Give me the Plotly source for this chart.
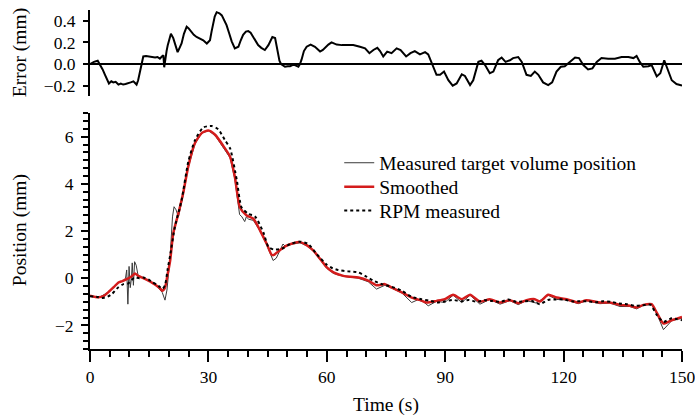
import plotly.graph_objects as go

# ---------------- data ----------------
err_t = [0, 1.0, 1.95, 2.5, 3.2, 3.8, 4.8, 5.4, 5.9, 6.5, 7.2, 7.8, 8.4, 9.0, 9.7, 10.3, 11.0, 11.8,
         12.2, 12.7, 13.1, 13.5, 14.2, 14.8, 15.6, 16.5, 17.1, 17.7, 18.2, 18.6, 18.8, 19.0, 19.4,
         19.7, 20.5, 21.1, 21.6, 22.2, 22.7, 23.2, 23.8, 24.5, 25.0, 25.6, 26.3, 27.0, 27.8, 28.7,
         29.6, 30.4, 30.8, 31.2, 31.6, 32.1, 32.8, 33.4, 34.0, 34.6, 35.3, 35.9, 36.7, 37.6, 38.2,
         38.8, 39.5, 40.1, 40.7, 41.4, 42.0, 42.6, 43.4, 44.3, 45.2, 45.7, 46.2, 46.9, 47.3, 47.6,
         48.0, 48.4, 49.4, 50.1, 50.7, 51.3, 51.9, 52.8, 53.2, 53.6, 54.2, 54.9, 55.9, 57.0, 57.7,
         58.3, 59.0, 59.5, 60.4, 61.2, 62.0, 62.5, 63.8, 65.0, 66.7, 68.4, 69.7, 70.8, 71.8, 72.8,
         73.5, 74.3, 75.3, 76.4, 77.7, 78.7, 80.1, 81.2, 82.3, 83.6, 84.9, 85.7, 86.3, 87.0, 87.8,
         88.7, 89.7, 90.8, 91.9, 92.9, 94.2, 95.0, 96.3, 97.1, 97.8, 98.4, 99.2, 100.1, 101.3,
         102.2, 103.4, 104.3, 105.3, 106.4, 107.2, 108.5, 109.4, 110.6, 111.7, 112.7, 113.6,
         114.8, 116.1, 117.1, 118.2, 119.3, 120.3, 121.6, 122.9, 123.9, 125.0, 126.2, 127.3,
         128.4, 129.6, 131.3, 133.0, 134.7, 136.4, 137.7, 138.5, 139.3, 140.2, 141.5, 142.3,
         143.6, 144.5, 145.5, 146.5, 147.4, 148.6, 150.0]
err_v = [0.0, 0.02, 0.03, 0.0, -0.05, -0.10, -0.18, -0.16, -0.17, -0.165, -0.19, -0.18, -0.19,
         -0.185, -0.18, -0.17, -0.16, -0.19, -0.15, -0.055, 0.03, 0.07, 0.075, 0.07, 0.065, 0.06,
         0.065, 0.05, 0.07, 0.08, -0.03, 0.03, 0.12, 0.175, 0.28, 0.24, 0.17, 0.11, 0.15, 0.19,
         0.28, 0.345, 0.33, 0.30, 0.27, 0.25, 0.235, 0.22, 0.19, 0.22, 0.30, 0.375, 0.44, 0.48,
         0.47, 0.45, 0.41, 0.36, 0.28, 0.21, 0.145, 0.16, 0.22, 0.27, 0.30, 0.305, 0.29, 0.25,
         0.21, 0.175, 0.15, 0.13, 0.175, 0.22, 0.25, 0.24, 0.16, 0.08, 0.03, 0.0, -0.025, -0.02,
         -0.02, -0.01, -0.01, -0.025, 0.0, 0.04, 0.12, 0.16, 0.18, 0.16, 0.135, 0.115, 0.13, 0.15,
         0.18, 0.20, 0.185, 0.18, 0.175, 0.175, 0.175, 0.16, 0.145, 0.10, 0.13, 0.15, 0.12, 0.07,
         0.115, 0.10, 0.145, 0.13, 0.07, 0.10, 0.12, 0.09, 0.11, 0.09, 0.03, -0.04, -0.10, -0.10,
         -0.07, -0.15, -0.20, -0.18, -0.095, -0.11, -0.195, -0.15, -0.05, 0.02, 0.03, -0.01,
         -0.085, -0.07, 0.035, 0.06, 0.02, 0.035, 0.055, 0.065, 0.02, -0.10, -0.11, -0.07, -0.10,
         -0.17, -0.195, -0.17, -0.07, -0.025, -0.02, 0.02, 0.06, 0.055, -0.01, -0.05, -0.04, 0.02,
         0.055, 0.05, 0.05, 0.065, 0.065, 0.055, 0.075, 0.02, -0.025, -0.02, -0.01, -0.115,
         -0.085, 0.035, -0.06, -0.15, -0.185, -0.20]

meas_t = [0, 2.1, 4.6, 7.2, 8.5, 9.0, 9.3, 9.6, 9.9, 10.2, 10.5, 10.7, 11.0, 11.3, 11.7, 12.2,
          13.5, 14.8, 16.9, 18.3, 19.0, 19.5, 20.3, 20.9, 21.3, 21.8, 22.4, 22.9, 23.6, 24.9,
          26.6, 28.3, 30.0, 31.7, 33.8, 35.5, 36.7, 37.9, 38.5, 39.2, 39.6, 40.2, 41.4, 43.1,
          44.8, 46.4, 47.2, 48.2, 48.9, 49.5, 51.5, 53.2, 54.9, 56.6, 58.3, 60.0, 61.7, 64.2,
          68.0, 70.5, 72.6, 74.7, 76.4, 79.0, 81.5, 83.0, 84.5, 85.7, 87.8, 89.9, 92.0, 94.2,
          96.3, 98.8, 101.3, 103.9, 106.4, 108.5, 110.6, 113.0, 116.1, 118.2, 120.8, 123.7,
          125.8, 129.2, 131.7, 134.3, 136.8, 138.5, 140.2, 142.3, 143.6, 145.3, 147.4, 148.5,
          150.0]
meas_v = [-0.76, -0.83, -0.6, -0.2, -0.1, 0.0, 0.35, -1.1, 0.5, -0.4, 0.0, 0.65, -0.3, 0.7,
          0.55, 0.1, 0.0, -0.1, -0.33, -0.6, -0.93, -0.5, 0.9, 2.6, 3.03, 2.9, 2.6, 2.95, 3.5,
          4.7, 5.7, 6.15, 6.25, 6.05, 5.55, 5.1, 4.2, 2.7, 2.6, 2.4, 2.6, 2.5, 2.45, 2.0, 1.4,
          0.75, 0.85, 1.2, 1.45, 1.35, 1.45, 1.5, 1.38, 1.15, 0.8, 0.42, 0.2, 0.08, 0.0, -0.15,
          -0.46, -0.3, -0.42, -0.62, -1.03, -0.92, -1.0, -1.17, -0.98, -1.03, -0.72, -1.03,
          -0.72, -1.1, -0.9, -1.1, -0.95, -1.12, -0.95, -1.05, -0.72, -0.9, -0.92, -1.08, -0.95,
          -1.08, -1.05, -1.2, -1.2, -1.3, -1.15, -1.12, -1.5, -2.18, -1.8, -1.75, -1.7]

smooth_t = [0, 2.1, 3.5, 4.6, 6.0, 7.2, 8.2, 9.3, 10.6, 11.4, 12.2, 13.5, 14.8, 16.0, 16.9, 17.7,
            18.3, 19.0, 19.6, 20.3, 21.1, 22.4, 23.6, 24.9, 26.6, 28.3, 30.0, 31.7, 33.8, 35.5,
            36.7, 38.0, 39.7, 41.4, 43.1, 44.8, 46.0, 46.5, 48.2, 49.8, 51.5, 53.2, 54.9, 56.6,
            58.3, 60.0, 61.7, 64.2, 66.0, 68.0, 70.5, 72.6, 74.7, 76.4, 79.0, 81.5, 84.0, 85.3,
            87.8, 89.9, 92.0, 94.2, 96.3, 98.8, 101.3, 103.9, 106.4, 108.5, 110.6, 112.7, 114.0,
            116.1, 118.2, 120.8, 123.7, 125.8, 129.2, 131.7, 134.3, 136.8, 138.5, 140.2, 142.3,
            143.6, 145.3, 147.4, 150.0]
smooth_v = [-0.74, -0.81, -0.75, -0.6, -0.38, -0.18, -0.12, -0.04, 0.08, 0.2, 0.1, 0.0, -0.1,
            -0.22, -0.32, -0.42, -0.53, -0.4, 0.1, 0.74, 1.9, 2.75, 3.6, 4.74, 5.73, 6.15, 6.26,
            6.08, 5.6, 5.15, 4.3, 3.0, 2.66, 2.52, 2.02, 1.45, 1.0, 0.98, 1.2, 1.38, 1.48, 1.53,
            1.4, 1.17, 0.82, 0.46, 0.25, 0.1, 0.06, 0.03, -0.1, -0.3, -0.25, -0.39, -0.6, -0.82,
            -0.95, -1.03, -0.96, -0.89, -0.7, -0.89, -0.7, -0.99, -0.89, -1.03, -0.93, -1.06,
            -0.93, -0.89, -0.99, -0.7, -0.82, -0.89, -1.03, -0.93, -1.03, -1.03, -1.13, -1.17,
            -1.24, -1.13, -1.1, -1.46, -1.92, -1.78, -1.64]

rpm_t = [0, 2.0, 3.0, 4.5, 5.5, 7.2, 8.5, 9.7, 11.0, 11.4, 12.5, 13.5, 14.8, 15.6, 16.9, 17.7,
         18.4, 19.0, 19.7, 20.3, 21.5, 23.2, 24.9, 26.6, 28.7, 30.8, 32.5, 34.2, 35.5, 37.2,
         38.4, 40.1, 41.8, 43.9, 45.2, 46.5, 48.6, 50.7, 53.2, 55.3, 57.4, 60.0, 61.5, 62.9,
         65.4, 68.0, 69.7, 71.8, 73.9, 76.4, 79.0, 81.5, 84.0, 86.0, 88.0, 90.0, 92.0, 94.0,
         96.0, 98.0, 100.0, 102.0, 104.0, 106.0, 108.0, 110.0, 112.0, 114.0, 116.0, 118.0,
         120.0, 122.0, 124.0, 126.0, 128.0, 130.0, 132.0, 134.0, 136.0, 138.0, 140.0, 142.0,
         143.6, 145.3, 147.4, 150.0]
rpm_v = [-0.76, -0.8, -0.84, -0.78, -0.68, -0.38, -0.25, -0.22, 0.0, 0.03, 0.0, 0.03, -0.05,
         -0.15, -0.27, -0.37, -0.45, -0.30, 0.4, 0.96, 2.17, 3.3, 4.93, 5.85, 6.39, 6.45, 6.31,
         5.85, 5.5, 4.15, 3.0, 2.73, 2.62, 1.95, 1.33, 1.22, 1.25, 1.45, 1.55, 1.45, 1.03, 0.57,
         0.42, 0.35, 0.29, 0.25, 0.1, -0.1, -0.25, -0.36, -0.53, -0.79, -0.89, -0.95, -1.03,
         -0.98, -0.92, -0.98, -0.92, -1.0, -0.93, -0.97, -1.0, -0.9, -1.0, -0.98, -0.97, -1.1,
         -0.92, -0.9, -0.9, -0.98, -0.98, -0.98, -1.02, -0.98, -1.0, -1.07, -1.1, -1.17, -1.15,
         -1.12, -1.55, -1.85, -1.7, -1.78]

x_ticks = [0, 30, 60, 90, 120, 150]
pos_ticks = [-2, 0, 2, 4, 6]
err_ticks = [-0.2, 0.0, 0.2, 0.4]

FONT = "Liberation Serif"
LEG_FONT = dict(family=FONT, size=19.5, color="black")

fig = go.Figure()
fig.add_trace(go.Scatter(x=err_t, y=err_v, mode="lines", line=dict(color="black", width=2),
                         xaxis="x2", yaxis="y2", showlegend=False))
fig.add_trace(go.Scatter(x=meas_t, y=meas_v, mode="lines", name="Measured target volume position",
                         line=dict(color="#3a3a3a", width=1), legend="legend"))
fig.add_trace(go.Scatter(x=smooth_t, y=smooth_v, mode="lines", name="Smoothed",
                         line=dict(color="#d41c1c", width=2.5, shape="spline", smoothing=0.6),
                         legend="legend2"))
fig.add_trace(go.Scatter(x=rpm_t, y=rpm_v, mode="lines", name="RPM measured",
                         line=dict(color="black", width=2, dash="dot", shape="spline", smoothing=0.6),
                         legend="legend3"))

axis_common = dict(showgrid=False, showline=True, linecolor="black", linewidth=2,
                   ticks="outside", tickcolor="black", tickwidth=2, automargin=False,
                   ticklabeloverflow="allow",
                   tickfont=dict(family=FONT, size=17.5, color="black"))

leg_common = dict(xanchor="left", yanchor="top", bgcolor="rgba(0,0,0,0)", font=LEG_FONT, x=0.421)

fig.update_layout(
    width=695, height=419,
    margin=dict(l=90, r=13, t=10, b=70),
    paper_bgcolor="white", plot_bgcolor="white",
    font=dict(family=FONT, color="black"),
    xaxis=dict(domain=[0, 1], range=[0, 150], tickvals=x_ticks, ticklen=11,
               minor=dict(dtick=5, tick0=0, ticklen=6, ticks="outside", tickcolor="black", tickwidth=2),
               zeroline=False, anchor="y", **axis_common),
    yaxis=dict(domain=[0, 0.696], range=[-3, 7], tickvals=pos_ticks, ticklen=7,
               ticklabelstandoff=4,
               minor=dict(dtick=1 / 3, tick0=-3, ticklen=5, ticks="outside", tickcolor="black", tickwidth=2),
               zeroline=False, anchor="x", **axis_common),
    xaxis2=dict(domain=[0, 1], range=[0, 150], visible=False, anchor="y2"),
    yaxis2=dict(domain=[0.745, 1], range=[-0.3, 0.5], tickvals=err_ticks, tickformat=".1f",
                ticklen=5, ticklabelstandoff=4, zeroline=True, zerolinecolor="black",
                zerolinewidth=2, anchor="x2", **axis_common),
    legend=dict(y=0.606, **leg_common),
    legend2=dict(y=0.535, **leg_common),
    legend3=dict(y=0.465, **leg_common),
    annotations=[
        dict(text="Error (mm)", xref="paper", yref="paper", x=-0.118, y=0.873, textangle=-90,
             xanchor="center", yanchor="middle", showarrow=False,
             font=dict(family=FONT, size=19.5, color="black")),
        dict(text="Position (mm)", xref="paper", yref="paper", x=-0.118, y=0.351, textangle=-90,
             xanchor="center", yanchor="middle", showarrow=False,
             font=dict(family=FONT, size=19.5, color="black")),
        dict(text="Time (s)", xref="paper", yref="paper", x=0.5, y=-0.165,
             xanchor="center", yanchor="middle", showarrow=False,
             font=dict(family=FONT, size=19.5, color="black")),
    ],
)

# remove the browser's default 8px page margin so the 695x419 figure fills the window exactly
fig.write_html("out.html",
               config={"displayModeBar": False},
               post_script="document.body.style.margin='0';document.body.style.overflow='hidden';")
